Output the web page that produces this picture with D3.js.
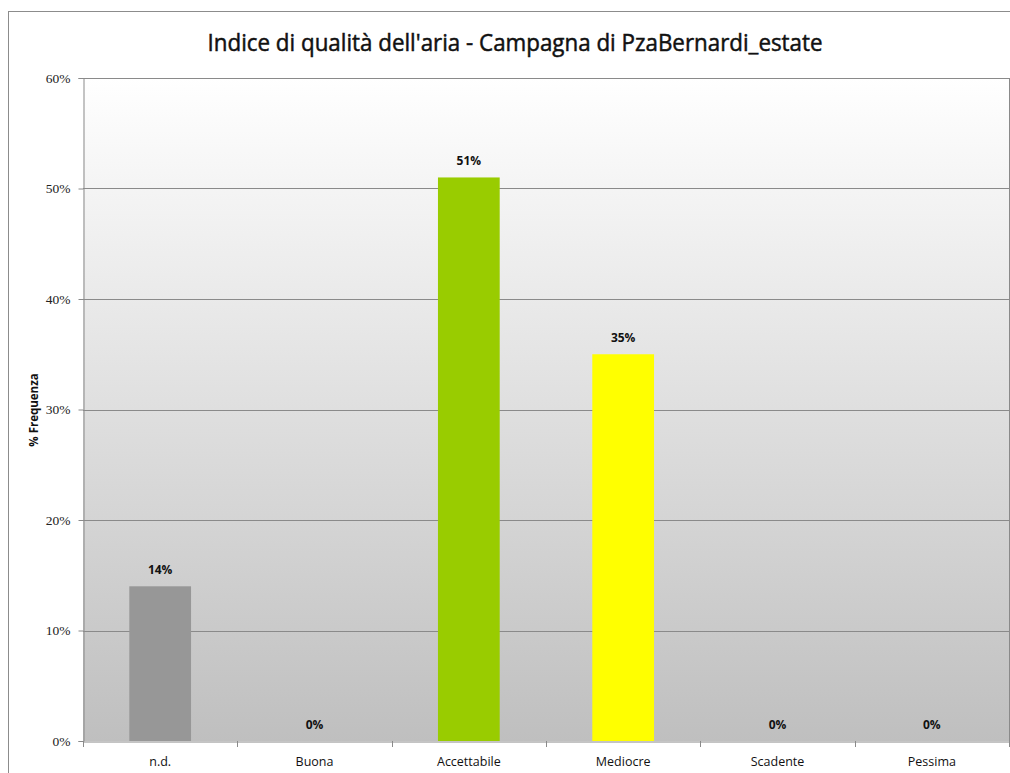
<!DOCTYPE html>
<html>
<head>
<meta charset="utf-8">
<script src="https://cdn.jsdelivr.net/npm/d3@7"></script>
<style>
  html, body { margin: 0; padding: 0; background: #fff; }
  svg { display: block; }
</style>
</head>
<body>
<svg id="chart" width="1010" height="773"></svg>
<script>
// Air quality index frequency by class
const categories = ["n.d.", "Buona", "Accettabile", "Mediocre", "Scadente", "Pessima"];
const frequencies = [14, 0, 51, 35, 0, 0];
const barColors = ["#979797", "#979797", "#99cc00", "#ffff00", "#979797", "#979797"];
const yTicks = [0, 10, 20, 30, 40, 50, 60];
const titleText = "Indice di qualità dell'aria - Campagna di PzaBernardi_estate";
const yAxisTitle = "% Frequenza";

const svg = d3.select("#chart");
const W = 1010, H = 773;
const plot = { left: 83, right: 1009, top: 78, bottom: 741 };

// outer chart frame
svg.append("line").attr("x1", 8).attr("x2", W).attr("y1", 11.5).attr("y2", 11.5)
  .attr("stroke", "#8c8c8c").attr("stroke-width", 1);
svg.append("line").attr("x1", 8.5).attr("x2", 8.5).attr("y1", 11).attr("y2", H)
  .attr("stroke", "#8c8c8c").attr("stroke-width", 1);

const x = d3.scaleBand().domain(categories).range([plot.left, plot.right]).paddingInner(0.6).paddingOuter(0.3);
const xBand = d3.scaleBand().domain(categories).range([plot.left, plot.right]);
const y = d3.scaleLinear().domain([0, 60]).range([plot.bottom, plot.top]);

// plot-area gradient background
const defs = svg.append("defs");
const grad = defs.append("linearGradient").attr("id", "bg").attr("x1", 0).attr("x2", 0).attr("y1", 0).attr("y2", 1);
grad.append("stop").attr("offset", "0%").attr("stop-color", "#ffffff");
grad.append("stop").attr("offset", "100%").attr("stop-color", "#bfbfbf");
svg.append("rect")
  .attr("x", plot.left).attr("y", plot.top)
  .attr("width", plot.right - plot.left).attr("height", plot.bottom - plot.top)
  .attr("fill", "url(#bg)");

// horizontal gridlines
svg.append("g").selectAll("line").data(yTicks.filter(d => d > 0)).join("line")
  .attr("x1", plot.left).attr("x2", plot.right)
  .attr("y1", d => Math.round(y(d)) + 0.5).attr("y2", d => Math.round(y(d)) + 0.5)
  .attr("stroke", "#8a8a8a").attr("stroke-width", 1);

// plot border (right side)
svg.append("line").attr("x1", plot.right + 0.5).attr("x2", plot.right + 0.5)
  .attr("y1", plot.top).attr("y2", plot.bottom).attr("stroke", "#8a8a8a");

// bars
svg.append("g").selectAll("rect").data(categories).join("rect")
  .attr("x", d => x(d)).attr("width", x.bandwidth())
  .attr("y", (d, i) => y(frequencies[i]))
  .attr("height", (d, i) => y(0) - y(frequencies[i]))
  .attr("fill", (d, i) => barColors[i]);

// value labels
svg.append("g").selectAll("text").data(categories).join("text")
  .attr("x", d => x(d) + x.bandwidth() / 2)
  .attr("y", (d, i) => y(frequencies[i]) - 12)
  .attr("text-anchor", "middle")
  .attr("font-family", "'Open Sans', sans-serif")
  .attr("font-weight", "bold")
  .attr("font-size", 12)
  .attr("fill", "#111")
  .text((d, i) => frequencies[i] + "%");

// y axis
const yAxis = svg.append("g").attr("transform", `translate(${plot.left + 0.5},0)`)
  .call(d3.axisLeft(y).tickValues(yTicks).tickSize(5).tickPadding(8).tickFormat(d => d + "%"));
yAxis.select(".domain").attr("stroke", "#8a8a8a");
yAxis.selectAll(".tick line").attr("stroke", "#8a8a8a");
yAxis.selectAll(".tick text")
  .attr("font-family", "'Liberation Serif', serif")
  .attr("font-size", 13.5)
  .attr("fill", "#222");

// x axis
const xAxis = svg.append("g").attr("transform", `translate(0,${plot.bottom + 0.5})`)
  .call(d3.axisBottom(xBand).tickSize(0).tickPadding(16));
xAxis.select(".domain").attr("stroke", "#8a8a8a");
xAxis.selectAll(".tick text")
  .attr("font-family", "'Open Sans', sans-serif")
  .attr("font-size", 12.5)
  .attr("fill", "#111");
// category boundary ticks
svg.append("g").selectAll("line").data(categories.concat([null])).join("line")
  .attr("x1", (d, i) => Math.round(plot.left + i * xBand.step()) + 0.5)
  .attr("x2", (d, i) => Math.round(plot.left + i * xBand.step()) + 0.5)
  .attr("y1", plot.bottom).attr("y2", plot.bottom + 6)
  .attr("stroke", "#8a8a8a");

// axis title
svg.append("text")
  .attr("transform", `translate(38,410) rotate(-90)`)
  .attr("text-anchor", "middle")
  .attr("font-family", "'Open Sans', sans-serif")
  .attr("font-weight", "bold")
  .attr("font-size", 11.5)
  .attr("fill", "#111")
  .text(yAxisTitle);

// chart title
svg.append("text")
  .attr("x", 515).attr("y", 51)
  .attr("text-anchor", "middle")
  .attr("font-family", "'Open Sans', sans-serif")
  .attr("font-size", 24)
  .attr("textLength", 615)
  .attr("lengthAdjust", "spacingAndGlyphs")
  .attr("fill", "#111")
  .attr("stroke", "#111")
  .attr("stroke-width", 0.5)
  .text(titleText);
</script>
</body>
</html>
